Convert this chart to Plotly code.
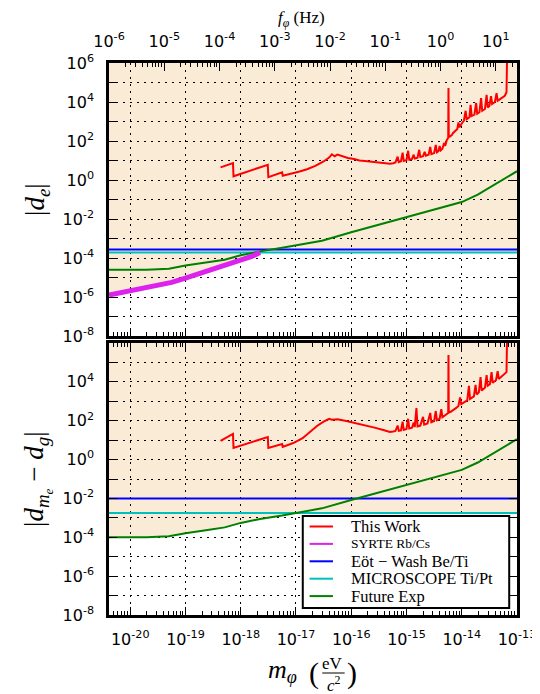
import numpy as np
import plotly.graph_objects as go

EV_TO_HZ = 2.417989e14  # 1 eV / h in Hz

# ---------------- axis ranges / ticks (log10 units) ----------------
logm_min = np.log10(1e-6 / EV_TO_HZ)      # left edge = 1e-6 Hz
logm_max = -13.0
logf_min = logm_min + np.log10(EV_TO_HZ)
logf_max = logm_max + np.log10(EV_TO_HZ)
y_log_min, y_log_max = -8, 6

mass_tick_exp = list(range(-20, -12))
freq_tick_exp = list(range(-6, 2))
y_tick_exp = list(range(-8, 7))

# ---------------- data: (log10 m_phi [eV], log10 coupling) ----------------
work_de_pts = [(-18.365, 0.65), (-18.14, 0.87), (-18.13, 0.19), (-17.51, 0.78), (-17.50, 0.15),
               (-17.25, 0.39), (-17.24, 0.22), (-17.10, 0.30), (-16.95, 0.42), (-16.80, 0.55),
               (-16.65, 0.72), (-16.50, 0.95), (-16.40, 1.15), (-16.35, 1.32), (-16.30, 1.22),
               (-16.25, 1.30), (-16.15, 1.20), (-16.06, 1.13), (-15.95, 1.08), (-15.85, 1.00),
               (-15.71, 0.96), (-15.60, 0.92), (-15.50, 0.88), (-15.40, 0.85), (-15.30, 0.84),
               (-15.24, 0.86), (-15.20, 0.90), (-15.16, 1.20), (-15.14, 0.92), (-15.10, 0.96),
               (-15.07, 1.40), (-15.05, 0.98), (-15.00, 1.02), (-14.97, 1.50), (-14.95, 1.04),
               (-14.90, 1.08), (-14.87, 1.30), (-14.85, 1.10), (-14.80, 1.14), (-14.77, 1.55),
               (-14.75, 1.18), (-14.70, 1.22), (-14.67, 1.45), (-14.65, 1.25), (-14.60, 1.30),
               (-14.57, 1.70), (-14.55, 1.33), (-14.50, 1.38), (-14.47, 1.80), (-14.45, 1.42),
               (-14.42, 1.48), (-14.40, 1.75), (-14.38, 1.52), (-14.35, 1.60), (-14.32, 1.90),
               (-14.30, 1.75), (-14.27, 2.05), (-14.245, 2.15), (-14.24, 4.72), (-14.235, 2.20),
               (-14.21, 2.24), (-14.18, 2.30), (-14.16, 2.40), (-14.12, 2.50), (-14.08, 2.62),
               (-14.06, 2.95), (-14.04, 2.70), (-14.00, 2.90), (-13.96, 3.05), (-13.93, 3.55),
               (-13.91, 3.12), (-13.86, 3.22), (-13.84, 3.86), (-13.82, 3.28), (-13.77, 3.35),
               (-13.74, 3.95), (-13.72, 3.40), (-13.68, 3.48), (-13.65, 4.20), (-13.63, 3.55),
               (-13.58, 3.64), (-13.55, 4.37), (-13.53, 3.72), (-13.50, 3.80), (-13.47, 4.30),
               (-13.45, 3.90), (-13.40, 4.00), (-13.37, 4.45), (-13.35, 4.06), (-13.30, 4.16),
               (-13.26, 4.22), (-13.22, 4.32), (-13.19, 4.50), (-13.18, 6.20)]

syrte_de_pts = [(-20.3835, -5.90), (-20.2, -5.80), (-20.0, -5.71), (-19.75, -5.58), (-19.53, -5.45),
                (-19.25, -5.25), (-19.0, -5.03), (-18.75, -4.80), (-18.53, -4.60), (-18.25, -4.37),
                (-18.0, -4.17), (-17.8, -3.92), (-17.65, -3.72)]

future_de_pts = [(-20.3835, -4.60), (-19.7, -4.60), (-19.3, -4.55), (-19.0, -4.39), (-18.6, -4.22),
                 (-18.29, -4.09), (-18.0, -3.86), (-17.65, -3.66), (-17.25, -3.48), (-17.0, -3.35),
                 (-16.53, -3.11), (-16.0, -2.68), (-15.5, -2.30), (-15.0, -1.91), (-14.5, -1.52),
                 (-14.0, -1.13), (-13.71, -0.75), (-13.36, -0.15), (-13.0, 0.45)]

eotwash_de_log = -3.56
microscope_de_log = -3.72

work_dm_pts = [(-18.365, 0.96), (-18.14, 1.32), (-18.13, 0.60), (-17.51, 1.16), (-17.50, 0.60),
               (-17.25, 0.80), (-17.24, 0.65), (-17.05, 0.85), (-16.88, 1.10), (-16.75, 1.40),
               (-16.62, 1.73), (-16.50, 1.95), (-16.40, 2.10), (-16.35, 2.05), (-16.25, 2.08),
               (-16.09, 1.99), (-15.95, 1.90), (-15.83, 1.83), (-15.70, 1.72), (-15.56, 1.63),
               (-15.42, 1.52), (-15.30, 1.42), (-15.24, 1.44), (-15.20, 1.47), (-15.16, 1.75),
               (-15.14, 1.48), (-15.10, 1.50), (-15.07, 1.95), (-15.05, 1.53), (-15.00, 1.57),
               (-14.97, 2.10), (-14.95, 1.60), (-14.90, 1.64), (-14.87, 1.90), (-14.85, 1.67),
               (-14.82, 2.65), (-14.80, 1.71), (-14.75, 1.75), (-14.70, 2.20), (-14.68, 1.80),
               (-14.62, 1.86), (-14.57, 2.40), (-14.55, 1.92), (-14.50, 1.98), (-14.47, 2.50),
               (-14.45, 2.03), (-14.40, 2.10), (-14.37, 2.60), (-14.35, 2.18), (-14.30, 2.30),
               (-14.245, 2.40), (-14.24, 5.38), (-14.235, 2.42), (-14.20, 2.46), (-14.15, 2.55),
               (-14.10, 2.66), (-14.06, 2.76), (-14.03, 3.20), (-14.01, 2.85), (-13.95, 2.98),
               (-13.90, 3.05), (-13.87, 3.80), (-13.85, 3.12), (-13.78, 3.25), (-13.75, 3.85),
               (-13.73, 3.35), (-13.69, 3.46), (-13.66, 4.25), (-13.64, 3.55), (-13.58, 3.70),
               (-13.55, 4.35), (-13.53, 3.80), (-13.49, 3.88), (-13.46, 4.50), (-13.44, 3.95),
               (-13.38, 4.08), (-13.35, 4.55), (-13.33, 4.15), (-13.27, 4.28), (-13.23, 4.38),
               (-13.19, 4.50), (-13.18, 6.20)]

future_dm_pts = [(-20.3835, -4.00), (-19.7, -4.00), (-19.3, -3.95), (-19.0, -3.79), (-18.6, -3.62),
                 (-18.29, -3.49), (-18.0, -3.26), (-17.65, -3.06), (-17.25, -2.88), (-17.0, -2.75),
                 (-16.53, -2.51), (-16.0, -2.08), (-15.5, -1.70), (-15.0, -1.31), (-14.5, -0.92),
                 (-14.0, -0.53), (-13.71, -0.15), (-13.36, 0.45), (-13.0, 1.05)]

eotwash_dm_log = -2.0
microscope_dm_log = -2.75

legend_names = ["This Work", "SYRTE Rb/Cs", "Eöt − Wash Be/Ti", "MICROSCOPE Ti/Pt", "Future Exp"]
colors = {"work": "#FF0000", "syrte": "#DD22EE", "eot": "#0000FF", "micro": "#00BFBF", "future": "#008000"}
FILL = "#FAEBD7"


def unzip(pts):
    a = np.array(pts, dtype=float)
    return 10 ** a[:, 0], 10 ** a[:, 1]


# ---------------- figure geometry (pixels) ----------------
W, H = 540, 694
PL, PR, PT, PB = 101, 520, 55, 607
TOP_BOT, BOT_TOP = 328, 335
PW, PH = PR - PL, PB - PT


def px(xp):
    return (xp - PL) / PW


def py(yp):
    return (PB - yp) / PH


fig = go.Figure()

# ---------------- top panel traces (x2, y) ----------------
x, y = unzip(work_de_pts)
fig.add_trace(go.Scatter(x=x, y=y, mode="lines", line=dict(color=colors["work"], width=2),
                         xaxis="x2", yaxis="y", showlegend=False))
mx = [10 ** logm_min, 10 ** logm_max]
fig.add_trace(go.Scatter(x=mx, y=[10 ** eotwash_de_log] * 2, mode="lines",
                         line=dict(color=colors["eot"], width=2), xaxis="x2", yaxis="y", showlegend=False))
fig.add_trace(go.Scatter(x=mx, y=[10 ** microscope_de_log] * 2, mode="lines",
                         line=dict(color=colors["micro"], width=2), xaxis="x2", yaxis="y", showlegend=False))
x, y = unzip(future_de_pts)
fig.add_trace(go.Scatter(x=x, y=y, mode="lines", line=dict(color=colors["future"], width=2),
                         xaxis="x2", yaxis="y", showlegend=False))
# SYRTE drawn against the frequency axis (same position, f = m c^2 / h)
x, y = unzip(syrte_de_pts)
fig.add_trace(go.Scatter(x=x * EV_TO_HZ, y=y, mode="lines", line=dict(color=colors["syrte"], width=5),
                         xaxis="x3", yaxis="y", showlegend=False))

# ---------------- bottom panel traces (x, y2) ----------------
x, y = unzip(work_dm_pts)
fig.add_trace(go.Scatter(x=x, y=y, mode="lines", line=dict(color=colors["work"], width=2),
                         xaxis="x", yaxis="y2", showlegend=False))
fig.add_trace(go.Scatter(x=mx, y=[10 ** eotwash_dm_log] * 2, mode="lines",
                         line=dict(color=colors["eot"], width=2), xaxis="x", yaxis="y2", showlegend=False))
fig.add_trace(go.Scatter(x=mx, y=[10 ** microscope_dm_log] * 2, mode="lines",
                         line=dict(color=colors["micro"], width=2), xaxis="x", yaxis="y2", showlegend=False))
x, y = unzip(future_dm_pts)
fig.add_trace(go.Scatter(x=x, y=y, mode="lines", line=dict(color=colors["future"], width=2),
                         xaxis="x", yaxis="y2", showlegend=False))

# ---------------- excluded regions (shapes below the grid) ----------------
sx, sy = unzip(syrte_de_pts)
top_poly = list(zip(sx, sy)) + [(sx[-1], 10 ** microscope_de_log), (10 ** logm_max, 10 ** microscope_de_log),
                                 (10 ** logm_max, 10 ** y_log_max), (10 ** logm_min, 10 ** y_log_max)]
gx, gy = unzip(future_dm_pts)
low = np.minimum(gy, 10 ** microscope_dm_log)
bot_poly = list(zip(gx, low)) + [(10 ** logm_max, 10 ** y_log_max), (10 ** logm_min, 10 ** y_log_max)]


def path_of(poly):
    return "M " + " L ".join(f"{a:.6e},{b:.6e}" for a, b in poly) + " Z"


shapes = [
    dict(type="path", path=path_of(top_poly), xref="x2", yref="y", fillcolor=FILL,
         line=dict(width=0), layer="below"),
    dict(type="path", path=path_of(bot_poly), xref="x", yref="y2", fillcolor=FILL,
         line=dict(width=0), layer="below"),
]

# ---------------- legend (drawn manually to match spacing) ----------------
leg_x0, leg_x1, leg_y0, leg_y1 = 300, 512, 508, 600
shapes.append(dict(type="rect", xref="paper", yref="paper", x0=px(leg_x0), x1=px(leg_x1),
                   y0=py(leg_y1), y1=py(leg_y0), fillcolor="white", line=dict(color="black", width=2),
                   layer="above"))
annotations = []
leg_colors = [colors["work"], colors["syrte"], colors["eot"], colors["micro"], colors["future"]]
leg_sizes = [16.5, 13.5, 16.5, 16.5, 16.5]
for i, (name, c, fs) in enumerate(zip(legend_names, leg_colors, leg_sizes)):
    yy = 518.5 + i * 17.4
    shapes.append(dict(type="line", xref="paper", yref="paper", x0=px(307), x1=px(331),
                       y0=py(yy), y1=py(yy), line=dict(color=c, width=2), layer="above"))
    annotations.append(dict(text=name, xref="paper", yref="paper", x=px(347), y=py(yy),
                            xanchor="left", yanchor="middle", showarrow=False,
                            font=dict(family="Liberation Serif", size=fs, color="black")))

# ---------------- titles ----------------
serif = "Liberation Serif"
annotations += [
    dict(text="<i>f</i><sub><i>φ</i></sub> (Hz)", xref="paper", yref="paper", x=px(299), y=py(-2),
         xanchor="center", yanchor="top", showarrow=False, font=dict(family=serif, size=17, color="black")),
    dict(text="|<i>d</i><sub><i>e</i></sub>|", xref="paper", yref="paper", x=px(27), y=py(191),
         xanchor="center", yanchor="middle", textangle=-90, showarrow=False,
         font=dict(family=serif, size=27, color="black")),
    dict(text="|<i>d</i><sub><i>m</i><sub><i>e</i></sub></sub> − <i>d</i><sub><i>g</i></sub>|",
         xref="paper", yref="paper", x=px(27), y=py(471),
         xanchor="center", yanchor="middle", textangle=-90, showarrow=False,
         font=dict(family=serif, size=27, color="black")),
    dict(text="<i>m</i><sub><i>φ</i></sub>", xref="paper", yref="paper", x=px(279), y=py(663),
         xanchor="center", yanchor="middle", showarrow=False, font=dict(family=serif, size=26, color="black")),
    dict(text="(", xref="paper", yref="paper", x=px(312), y=py(665),
         xanchor="center", yanchor="middle", showarrow=False, font=dict(family=serif, size=30, color="black")),
    dict(text="eV", xref="paper", yref="paper", x=px(331), y=py(655),
         xanchor="center", yanchor="middle", showarrow=False, font=dict(family=serif, size=17, color="black")),
    dict(text="<i>c</i><sup>2</sup>", xref="paper", yref="paper", x=px(332), y=py(676),
         xanchor="center", yanchor="middle", showarrow=False, font=dict(family=serif, size=17, color="black")),
    dict(text=")", xref="paper", yref="paper", x=px(351), y=py(665),
         xanchor="center", yanchor="middle", showarrow=False, font=dict(family=serif, size=30, color="black")),
]
shapes.append(dict(type="line", xref="paper", yref="paper", x0=px(320), x1=px(343), y0=py(665), y1=py(665),
                   line=dict(color="black", width=1)))

# ---------------- axes ----------------
tickfont = dict(family="DejaVu Sans", size=16, color="black")
grid = dict(showgrid=True, gridcolor="black", gridwidth=1, griddash="2px,5px")
mass_minor = [k * 10.0 ** e for e in range(-21, -13) for k in range(2, 10)]
freq_minor = [k * 10.0 ** e for e in range(-6, 2) for k in range(2, 10)]

common_x = dict(type="log", range=[logm_min, logm_max], ticks="inside", ticklen=8, tickwidth=1,
                tickcolor="black", showline=True, linecolor="black", linewidth=2.5,
                tickvals=[10.0 ** e for e in mass_tick_exp],
                ticktext=[f"10<sup>{e}</sup>" for e in mass_tick_exp],
                tickfont=tickfont, zeroline=False,
                minor=dict(tickvals=mass_minor, ticks="inside", ticklen=4, tickwidth=1,
                           tickcolor="black", showgrid=False), **grid)

y_vals = [10.0 ** e for e in y_tick_exp]
common_y = dict(type="log", range=[y_log_min, y_log_max], ticks="inside", ticklen=8, tickwidth=1,
                tickcolor="black", showline=True, linecolor="black", linewidth=2.5, mirror="ticks",
                tickvals=y_vals, tickfont=tickfont, zeroline=False, ticklabelstandoff=9, **grid)

fig.update_layout(
    width=W, height=H,
    margin=dict(l=PL, r=W - PR, t=PT, b=H - PB, pad=0),
    paper_bgcolor="white", plot_bgcolor="white",
    showlegend=False,
    xaxis=dict(anchor="y2", side="bottom", mirror="ticks", ticklabelstandoff=8, **common_x),
    xaxis2=dict(anchor="y", matches="x", showticklabels=False, mirror=False, **common_x),
    xaxis3=dict(type="log", range=[logf_min, logf_max], overlaying="x2", anchor="y", side="top",
                ticks="inside", ticklen=8, tickwidth=1, tickcolor="black", showline=True,
                linecolor="black", linewidth=2.5, showgrid=False, zeroline=False,
                tickvals=[10.0 ** e for e in freq_tick_exp],
                ticktext=[f"10<sup>{e}</sup>" for e in freq_tick_exp], tickfont=tickfont,
                ticklabelstandoff=7,
                minor=dict(tickvals=freq_minor, ticks="inside", ticklen=4, tickwidth=1,
                           tickcolor="black", showgrid=False)),
    yaxis=dict(domain=[py(TOP_BOT), 1.0], anchor="x2",
               ticktext=[f"10<sup>{e}</sup>" if e % 2 == 0 else "" for e in y_tick_exp], **common_y),
    yaxis2=dict(domain=[0.0, py(BOT_TOP)], anchor="x",
                ticktext=[f"10<sup>{e}</sup>" if (e % 2 == 0 and e < 6) else "" for e in y_tick_exp],
                **common_y),
    shapes=shapes,
    annotations=annotations,
)

fig.write_html("out.html")
